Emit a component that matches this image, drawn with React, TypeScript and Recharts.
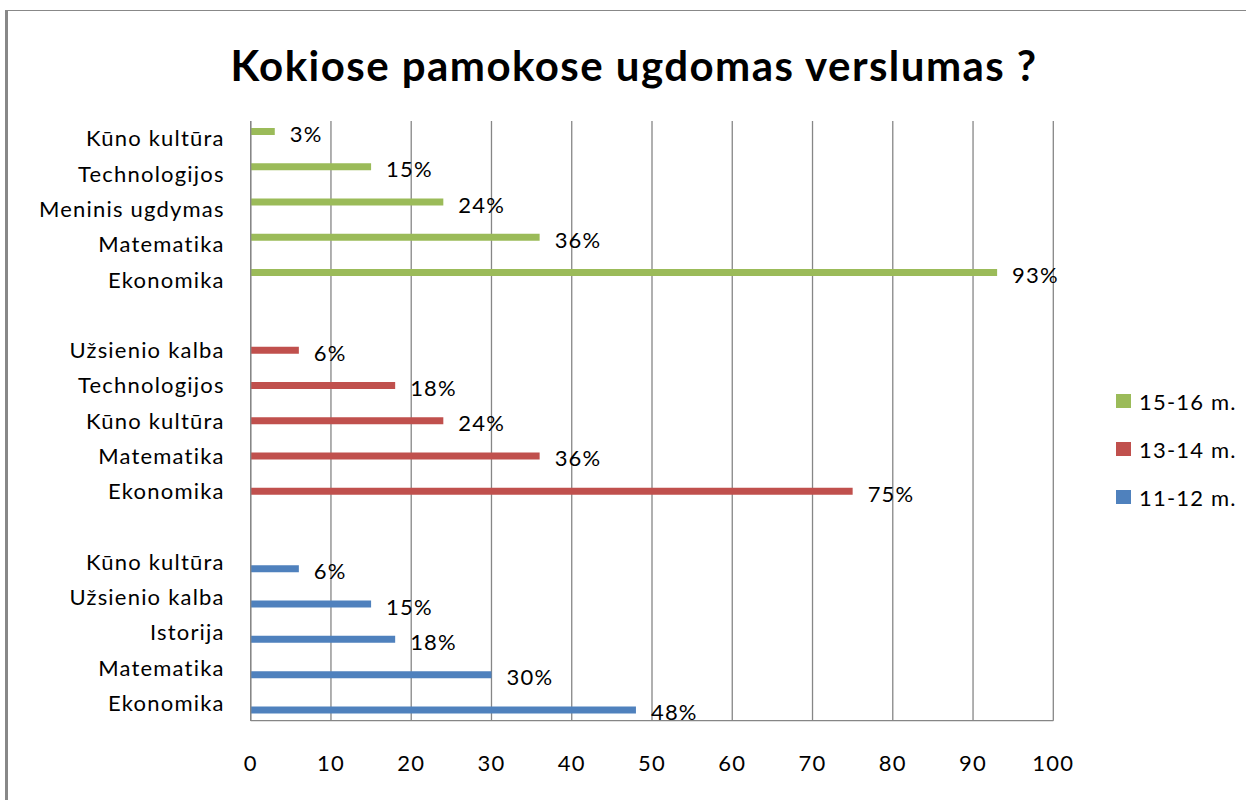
import React from 'react';
import { BarChart, Bar, XAxis, YAxis, CartesianGrid, LabelList } from 'recharts';

const categories = [
  'Kūno kultūra', 'Technologijos', 'Meninis ugdymas', 'Matematika', 'Ekonomika',
  '',
  'Užsienio kalba', 'Technologijos', 'Kūno kultūra', 'Matematika', 'Ekonomika',
  '',
  'Kūno kultūra', 'Užsienio kalba', 'Istorija', 'Matematika', 'Ekonomika',
];
const s1516: (number | null)[] = [3, 15, 24, 36, 93, null, null, null, null, null, null, null, null, null, null, null, null];
const s1314: (number | null)[] = [null, null, null, null, null, null, 6, 18, 24, 36, 75, null, null, null, null, null, null];
const s1112: (number | null)[] = [null, null, null, null, null, null, null, null, null, null, null, null, 6, 15, 18, 30, 48];
const xTicks = [0, 10, 20, 30, 40, 50, 60, 70, 80, 90, 100];
const seriesNames = ['15-16 m.', '13-14 m.', '11-12 m.'];
const colors = ['#9BBB59', '#C0504D', '#4F81BD'];

const data = categories.map((c, i) => ({
  key: String(i),
  name: c,
  a: s1516[i],
  b: s1314[i],
  c: s1112[i],
}));

const FONT = 'Lato, "Open Sans", sans-serif';
const GRID = '#868686';
const FS = 22;
const LS = 1.2;

const ValueLabel = (props: any) => {
  const { x, y, width, height, value } = props;
  if (value === null || value === undefined) return null;
  return (
    <text x={x + width + 15} y={y + height / 2 + 2} fontSize={FS} letterSpacing={LS} fontFamily={FONT} fill="#000" dominantBaseline="central">
      {value}%
    </text>
  );
};

export default function App() {
  return (
    <div style={{ position: 'absolute', left: 0, top: 0, width: 1246, height: 800, background: '#fff', overflow: 'hidden' }}>
      <div style={{ position: 'absolute', left: 5, top: 10, width: 3, height: 790, background: '#888' }} />
      <div style={{ position: 'absolute', left: 5, top: 10, width: 1241, height: 1, background: '#888' }} />
      <div style={{ position: 'absolute', left: 0, top: 38, width: 1268, textAlign: 'center', fontFamily: FONT, fontWeight: 'bold', fontSize: 42, letterSpacing: 1.45, color: '#000', lineHeight: '54px' }}>
        Kokiose pamokose ugdomas verslumas ?
      </div>
      <BarChart
        width={1246}
        height={800}
        data={data}
        layout="vertical"
        barSize={7}
        barGap={0}
        margin={{ top: 121, right: 192.7, bottom: 39.3, left: 0 }}
        style={{ position: 'absolute', left: 0, top: 0 }}
      >
        <CartesianGrid horizontal={false} stroke={GRID} strokeWidth={1.3} />
        <XAxis
          type="number"
          domain={[0, 100]}
          ticks={xTicks}
          height={40}
          tickLine={false}
          tickSize={0}
          tickMargin={35}
          axisLine={{ stroke: GRID, strokeWidth: 1.3 }}
          tick={{ fontSize: FS, fontFamily: FONT, fill: '#000', letterSpacing: LS }}
        />
        <YAxis
          type="category"
          dataKey="key"
          width={250.7}
          tickLine={false}
          tickSize={0}
          tickMargin={26}
          interval={0}
          tickFormatter={(v: string) => categories[Number(v)]}
          axisLine={{ stroke: GRID, strokeWidth: 1.3 }}
          tick={{ fontSize: FS, fontFamily: FONT, fill: '#000', letterSpacing: LS }}
        />
        <Bar dataKey="a" name={seriesNames[0]} fill={colors[0]} isAnimationActive={false}>
          <LabelList dataKey="a" content={<ValueLabel />} />
        </Bar>
        <Bar dataKey="b" name={seriesNames[1]} fill={colors[1]} isAnimationActive={false}>
          <LabelList dataKey="b" content={<ValueLabel />} />
        </Bar>
        <Bar dataKey="c" name={seriesNames[2]} fill={colors[2]} isAnimationActive={false}>
          <LabelList dataKey="c" content={<ValueLabel />} />
        </Bar>
      </BarChart>
      <div style={{ position: 'absolute', left: 1116, top: 377, fontFamily: FONT, fontSize: FS, letterSpacing: LS, color: '#000' }}>
        {seriesNames.map((n, i) => (
          <div key={n} style={{ display: 'flex', alignItems: 'center', height: 48 }}>
            <div style={{ width: 15, height: 14, background: colors[i], marginRight: 8 }} />
            <span>{n}</span>
          </div>
        ))}
      </div>
    </div>
  );
}
